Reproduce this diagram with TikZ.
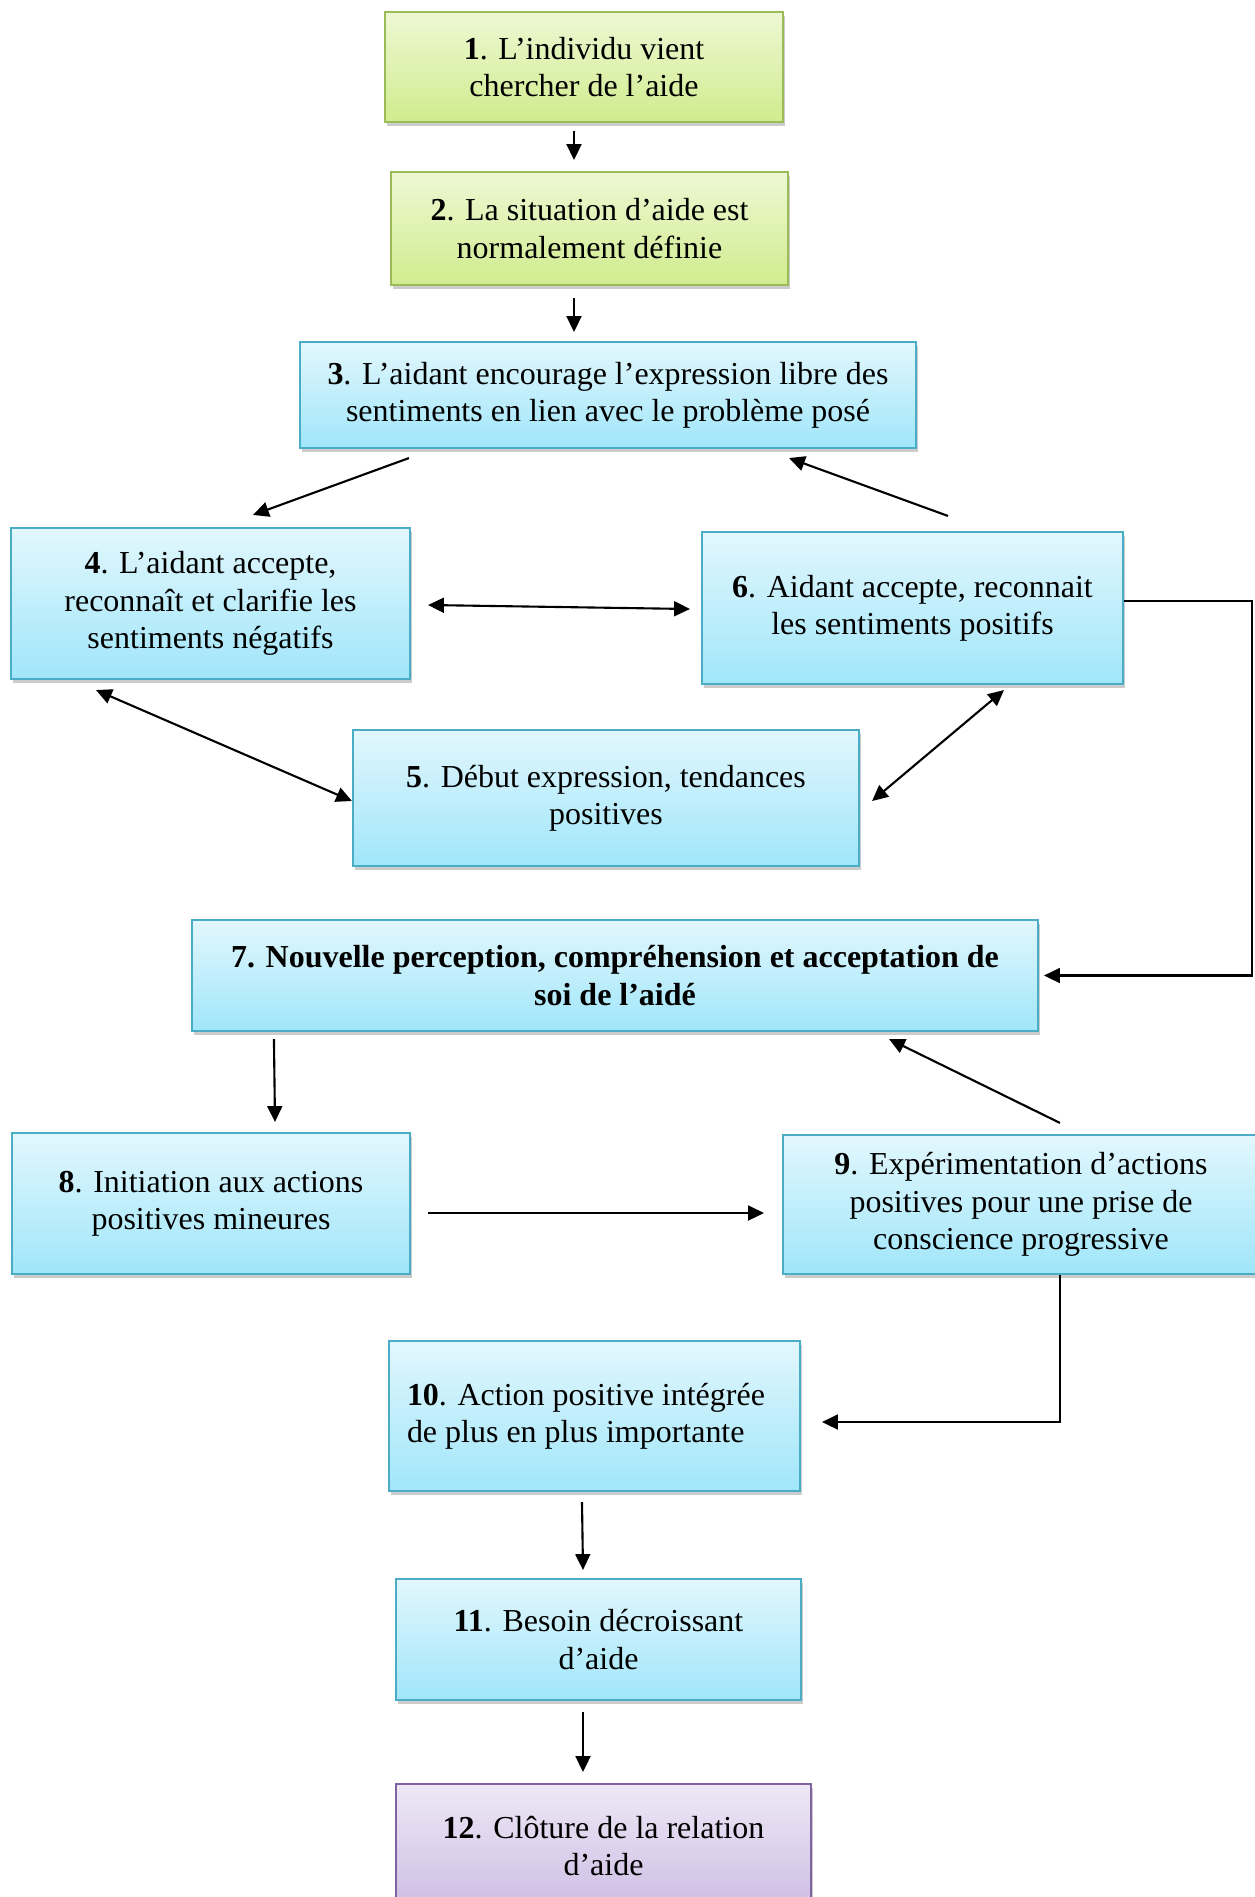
\documentclass[tikz,border=0pt]{standalone}
\usepackage{fontspec}
\setmainfont{Liberation Serif}
\usetikzlibrary{arrows.meta,calc,shadows}
\definecolor{grnTop}{RGB}{238,248,212}
\definecolor{grnBot}{RGB}{208,236,142}
\definecolor{grnLine}{RGB}{155,187,89}
\definecolor{bluTop}{RGB}{226,247,253}
\definecolor{bluBot}{RGB}{160,230,250}
\definecolor{bluLine}{RGB}{75,172,198}
\definecolor{vioTop}{RGB}{238,232,246}
\definecolor{vioBot}{RGB}{206,190,228}
\definecolor{vioLine}{RGB}{128,100,162}

\begin{document}
\begin{tikzpicture}[x=0.2mm,y=-0.2mm,
    bluebox/.style={rectangle, draw=bluLine, line width=1.2pt, top color=bluTop, bottom color=bluBot,
      align=center, inner sep=0pt, font=\fontsize{18.2}{21.2}\selectfont,
      drop shadow={shadow xshift=1.2pt, shadow yshift=-2pt, opacity=0.4}},
    greenbox/.style={bluebox, draw=grnLine, top color=grnTop, bottom color=grnBot},
    violetbox/.style={bluebox, draw=vioLine, top color=vioTop, bottom color=vioBot},
    arr/.style={-{Triangle[length=9pt,width=8.5pt]}, line width=1.2pt},
    twoway/.style={{Triangle[length=9pt,width=8.5pt]}-{Triangle[length=9pt,width=8.5pt]}, line width=1.2pt}]
  \useasboundingbox (0,0) rectangle (1255,1897);

  % the twelve stages
  \node[greenbox, minimum width=79.6mm, minimum height=22mm] (b1) at (584,67)
    {\textbf{1}. L’individu vient\\chercher de l’aide};
  \node[greenbox, minimum width=79.4mm, minimum height=22.6mm] (b2) at (589.5,228.5)
    {\textbf{2}. La situation d’aide est\\normalement définie};
  \node[bluebox, minimum width=123.2mm, minimum height=21.2mm] (b3) at (608,395)
    {\textbf{3}. L’aidant encourage l’expression libre des\\sentiments en lien avec le problème posé};
  \node[bluebox, minimum width=79.8mm, minimum height=30.2mm] (b4) at (210.5,603.5)
    {\textbf{4}. L’aidant accepte,\\reconnaît et clarifie les\\sentiments négatifs};
  \node[bluebox, minimum width=101.2mm, minimum height=27.2mm] (b5) at (606,798)
    {\textbf{5}. Début expression, tendances\\positives};
  \node[bluebox, minimum width=84.2mm, minimum height=30.4mm] (b6) at (912.5,608)
    {\textbf{6}. Aidant accepte, reconnait\\les sentiments positifs};
  \node[bluebox, minimum width=169.2mm, minimum height=22.2mm, font=\fontsize{18.2}{21.2}\selectfont\bfseries] (b7) at (615,975.5)
    {7. Nouvelle perception, compréhension et acceptation de\\soi de l’aidé};
  \node[bluebox, minimum width=79.6mm, minimum height=28.2mm] (b8) at (211,1203.5)
    {\textbf{8}. Initiation aux actions\\positives mineures};
  \node[bluebox, minimum width=95.2mm, minimum height=27.8mm] (b9) at (1021,1204.5)
    {\textbf{9}. Expérimentation d’actions\\positives pour une prise de\\conscience progressive};
  \node[bluebox, align=flush left, text width=75mm, inner xsep=3.6mm, minimum height=30mm] (b10) at (594.5,1416)
    {\textbf{10}. Action positive intégrée\\de plus en plus importante};
  \node[bluebox, minimum width=81mm, minimum height=24.2mm] (b11) at (598.5,1639.5)
    {\textbf{11}. Besoin décroissant\\d’aide};
  \node[violetbox, minimum width=83mm, minimum height=24.8mm] (b12) at (603.5,1846)
    {\textbf{12}. Clôture de la relation\\d’aide};

  % connectors
  \draw[arr] ($(b1.south)+(-10,8)$) -- ($(b2.north)+(-15.5,-11)$);
  \draw[arr] ($(b2.south)+(-15.5,12)$) -- ($(b3.north)+(-34,-9)$);
  \draw[arr] ($(b3.south west)+(110,9)$) -- ($(b4.north)+(42.5,-12)$);
  \draw[arr] ($(b6.north)+(35.5,-15)$) -- ($(b3.south east)+(-128,9)$);
  \draw[twoway] ($(b4.east)+(17,1.5)$) -- ($(b6.west)+(-11,1)$);
  \draw[twoway] ($(b4.south)+(-114.5,10)$) -- ($(b5.west)+(0,3)$);
  \draw[twoway] ($(b5.east)+(12,3)$) -- ($(b6.south)+(91.5,5)$);
  \draw[arr] ($(b6.east)+(0,-7)$) -- ++(128,0) |- ($(b7.east)+(5,0)$);
  \draw[arr] ($(b7.south west)+(83,7)$) -- ($(b8.north)+(64,-10)$);
  \draw[arr] ($(b9.north)+(39,-11)$) -- ($(b7.south east)+(-150,7)$);
  \draw[arr] ($(b8.east)+(17,9.5)$) -- ($(b9.west)+(-18,8.5)$);
  \draw[arr] ($(b9.south)+(39,0)$) |- ($(b10.east)+(21,6)$);
  \draw[arr] ($(b10.south)+(-12.5,10)$) -- ($(b11.north)+(-15.5,-8)$);
  \draw[arr] ($(b11.south)+(-15.5,11)$) -- ($(b12.north)+(-20.5,-11)$);
\end{tikzpicture}
\end{document}
